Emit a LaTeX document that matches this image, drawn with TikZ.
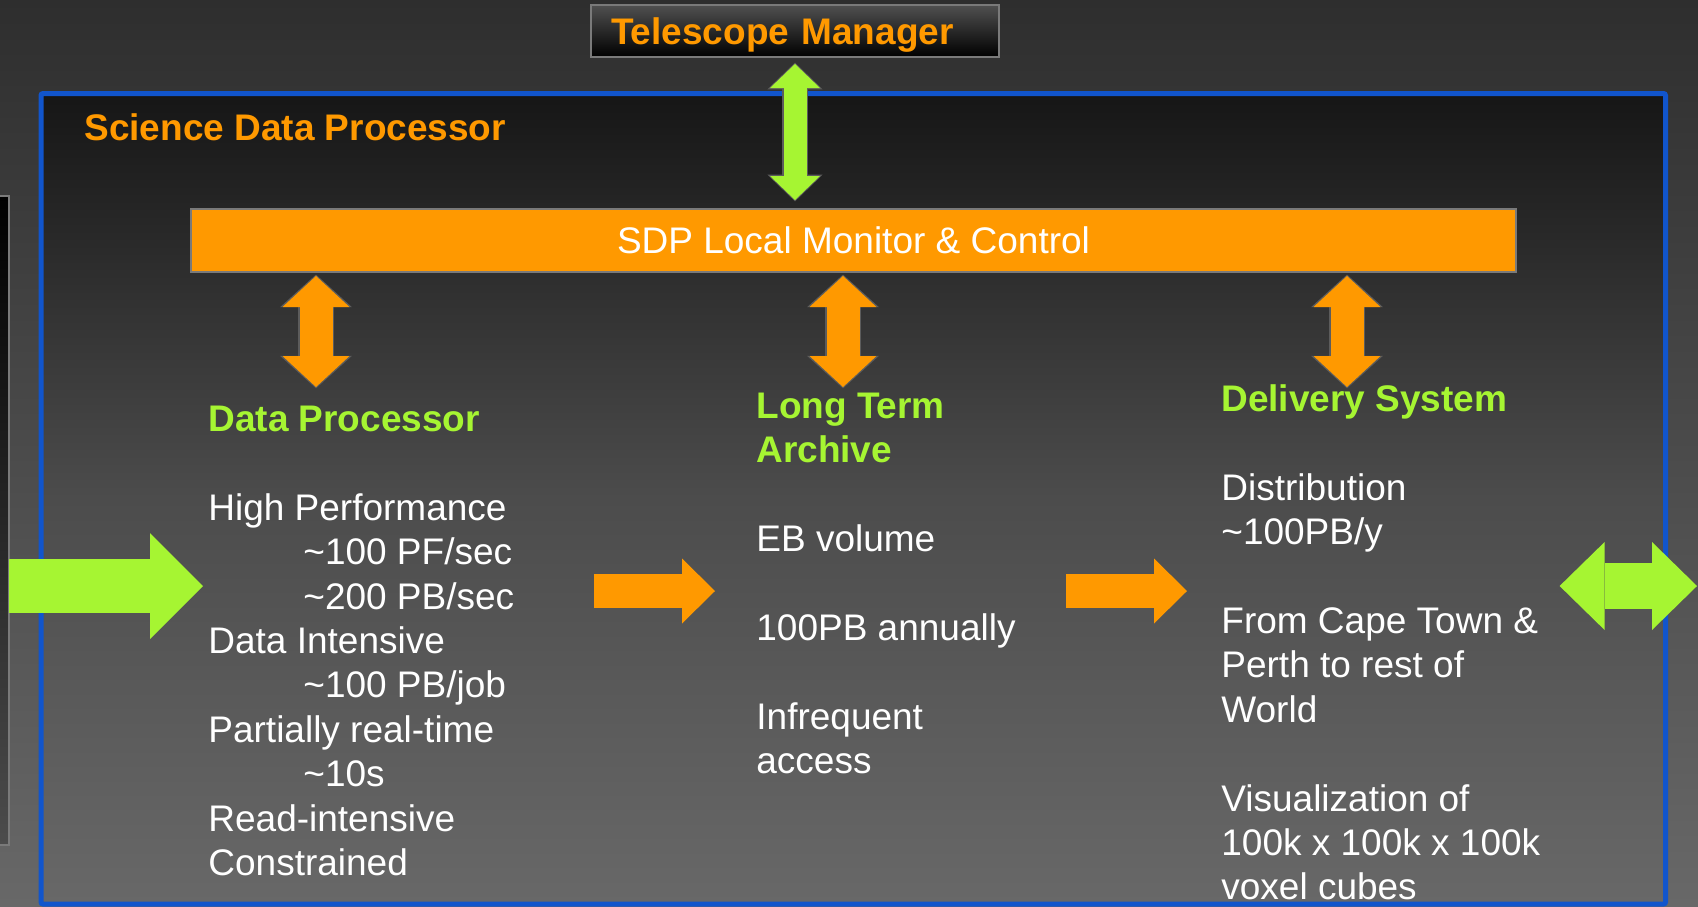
\documentclass[tikz,border=0pt]{standalone}
\usepackage{fontspec}
\setmainfont{Liberation Sans}
\usetikzlibrary{arrows.meta}

\definecolor{sdporange}{HTML}{FF9900}
\definecolor{sdpgreen}{HTML}{A6F532}
\definecolor{sdpblue}{HTML}{1155CC}
\definecolor{bgtop}{HTML}{2E2E2E}
\definecolor{bgmid}{HTML}{4C4C4C}
\definecolor{bgbottom}{HTML}{686868}
\definecolor{frametop}{HTML}{161616}
\definecolor{tmtop}{HTML}{505050}
\definecolor{linkedge}{HTML}{5C5C5C}
\definecolor{boxedge}{HTML}{7A7A7A}

\newcommand{\colhead}[1]{\textcolor{sdpgreen}{\bfseries #1}}

\tikzset{
  tmbox/.style={draw=boxedge, line width=1pt, top color=tmtop, bottom color=black,
    minimum height=26pt, text width=184pt, inner xsep=10pt, text depth=0pt,
    text=sdporange, font=\fontsize{18.5pt}{22.2pt}\selectfont\bfseries},
  lmcbox/.style={draw=boxedge, line width=0.6pt, fill=sdporange, text=white,
    minimum width=662.5pt, minimum height=31.5pt},
  coltext/.style={anchor=north west, align=left, inner sep=0pt, text=white},
  dlink/.style n args={3}{line width=#1,
    arrows={Triangle[width=#2,length=#3,line width=0pt]-Triangle[width=#2,length=#3,line width=0pt]}},
  flow/.style n args={3}{line width=#1,
    arrows={-Triangle[width=#2,length=#3,line width=0pt]}},
}

\begin{document}
\begin{tikzpicture}[x=0.5pt, y=-0.5pt, font=\fontsize{18.5pt}{22.2pt}\selectfont]
  \useasboundingbox (0,0) rectangle (1698,906);
  \clip (0,0) rectangle (1698,906);
  \shade[top color=bgtop, bottom color=bgbottom] (0,0) rectangle (1698,906);

  % window edge on the left
  \node[draw=boxedge, line width=0.6pt, top color=black, bottom color=bgmid,
    minimum width=9pt, minimum height=324.5pt, inner sep=0pt, outer sep=0pt] (feed) at (0,520.5) {};

  % science data processor frame
  \draw[draw=sdpblue, line width=2.5pt, rounded corners=1pt,
    top color=frametop, bottom color=bgbottom, middle color=bgmid] (41,93.5) rectangle (1665.5,904);
  \node[anchor=base west, inner sep=0pt, text=sdporange,
    font=\fontsize{18.5pt}{22.2pt}\selectfont\bfseries] (sdptitle) at (84,140) {Science Data Processor};

  \node[tmbox] (tm) at (795,31) {Telescope Manager};
  \node[lmcbox] (lmc) at (853.5,240.5) {SDP Local Monitor \& Control};

  % the three sub-systems
  \node[coltext] (dp) at (208,400) {\strut\colhead{Data Processor}\\[22.2pt]
    High Performance\\
    \hspace*{47.5pt}\textasciitilde 100 PF/sec\\
    \hspace*{47.5pt}\textasciitilde 200 PB/sec\\
    Data Intensive\\
    \hspace*{47.5pt}\textasciitilde 100 PB/job\\
    Partially real-time\\
    \hspace*{47.5pt}\textasciitilde 10s\\
    Read-intensive\\
    Constrained};
  \node[coltext] (lta) at (756,387) {\strut\colhead{Long Term}\\
    \colhead{Archive}\\[22.2pt]
    EB volume\\[22.2pt]
    100PB annually\\[22.2pt]
    Infrequent\\
    access};
  \node[coltext] (ds) at (1221,380) {\strut\colhead{Delivery System}\\[22.2pt]
    Distribution\\
    \textasciitilde 100PB/y\\[22.2pt]
    From Cape Town \&\\
    Perth to rest of\\
    World\\[22.2pt]
    Visualization of\\
    100k x 100k x 100k\\
    voxel cubes};

  % monitor and control links
  \draw[dlink={13pt}{27.6pt}{13.4pt}, linkedge, shorten <=2.3pt, shorten >=3.5pt] (tm.south) -- (tm.south |- lmc.north);
  \draw[dlink={11.5pt}{25pt}{12pt}, sdpgreen, shorten <=3pt, shorten >=4.2pt] (tm.south) -- (tm.south |- lmc.north);
  \foreach \x/\col/\gap/\edgegap in {316/dp/6.5pt/5.8pt, 843/lta/0pt/-0.7pt, 1347/ds/-3.5pt/-4.2pt}{
    \draw[dlink={18pt}{36pt}{16.3pt}, linkedge, shorten <=1pt, shorten >=\edgegap] (lmc.south -| \x,0) -- (\col.north -| \x,0);
    \draw[dlink={16.5pt}{33.5pt}{15.5pt}, sdporange, shorten <=1.7pt, shorten >=\gap] (lmc.south -| \x,0) -- (\col.north -| \x,0);
  }

  % data flow
  \draw[flow={27pt}{53pt}{26.5pt}, sdpgreen, shorten >=2.5pt] (feed.east |- 0,586) -- (dp.west |- 0,586);
  \draw[flow={17pt}{32.5pt}{16.5pt}, sdporange, shorten <=39.6pt, shorten >=20.5pt] (dp.east |- 0,591) -- (lta.west |- 0,591);
  \draw[flow={17pt}{32.5pt}{16.5pt}, sdporange, shorten <=25pt, shorten >=17pt] (lta.east |- 0,591) -- (ds.west |- 0,591);
  \coordinate (world) at (1697,586);
  \draw[dlink={23pt}{44pt}{22.5pt}, sdpgreen, shorten <=9.5pt] (ds.east |- world) -- (world);
\end{tikzpicture}
\end{document}
